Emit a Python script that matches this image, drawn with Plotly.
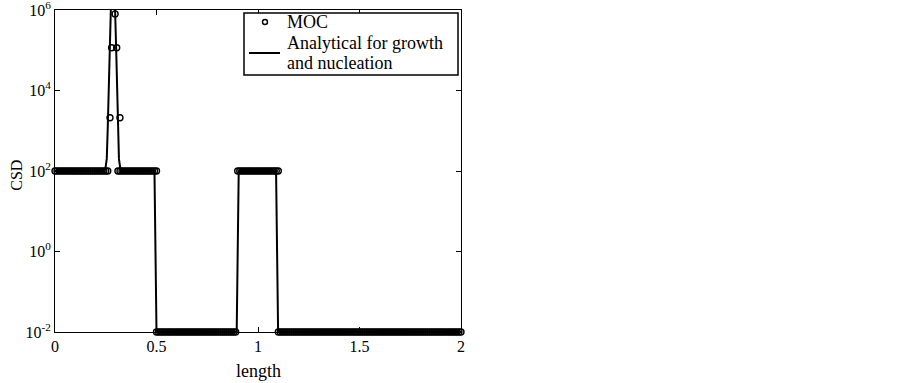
import plotly.graph_objects as go

# ---- data ----
# MOC points (method of characteristics)
moc_x_a = [0.00, 0.01, 0.02, 0.03, 0.04, 0.05, 0.06, 0.07, 0.08, 0.09, 0.10, 0.11, 0.12, 0.13,
           0.14, 0.15, 0.16, 0.17, 0.18, 0.19, 0.20, 0.21, 0.22, 0.23, 0.24, 0.25, 0.26]
moc_y_a = [100] * len(moc_x_a)

moc_x_peak = [0.271, 0.279, 0.296, 0.304, 0.320]
moc_y_peak = [2100, 1.15e5, 8.0e5, 1.15e5, 2100]

moc_x_b = [0.31, 0.32, 0.33, 0.34, 0.35, 0.36, 0.37, 0.38, 0.39, 0.40, 0.41, 0.42, 0.43, 0.44,
           0.45, 0.46, 0.47, 0.48, 0.49, 0.50]
moc_y_b = [100] * len(moc_x_b)

moc_x_c = [0.50, 0.51, 0.52, 0.53, 0.54, 0.55, 0.56, 0.57, 0.58, 0.59, 0.60, 0.61, 0.62, 0.63,
           0.64, 0.65, 0.66, 0.67, 0.68, 0.69, 0.70, 0.71, 0.72, 0.73, 0.74, 0.75, 0.76, 0.77,
           0.78, 0.79, 0.80, 0.81, 0.82, 0.83, 0.84, 0.85, 0.86, 0.87, 0.88, 0.89]
moc_y_c = [0.01] * len(moc_x_c)

moc_x_d = [0.90, 0.91, 0.92, 0.93, 0.94, 0.95, 0.96, 0.97, 0.98, 0.99, 1.00, 1.01, 1.02, 1.03,
           1.04, 1.05, 1.06, 1.07, 1.08, 1.09, 1.10]
moc_y_d = [100] * len(moc_x_d)

moc_x_e = [1.10, 1.11, 1.12, 1.13, 1.14, 1.15, 1.16, 1.17, 1.18, 1.19, 1.20, 1.21, 1.22, 1.23,
           1.24, 1.25, 1.26, 1.27, 1.28, 1.29, 1.30, 1.31, 1.32, 1.33, 1.34, 1.35, 1.36, 1.37,
           1.38, 1.39, 1.40, 1.41, 1.42, 1.43, 1.44, 1.45, 1.46, 1.47, 1.48, 1.49, 1.50, 1.51,
           1.52, 1.53, 1.54, 1.55, 1.56, 1.57, 1.58, 1.59, 1.60, 1.61, 1.62, 1.63, 1.64, 1.65,
           1.66, 1.67, 1.68, 1.69, 1.70, 1.71, 1.72, 1.73, 1.74, 1.75, 1.76, 1.77, 1.78, 1.79,
           1.80, 1.81, 1.82, 1.83, 1.84, 1.85, 1.86, 1.87, 1.88, 1.89, 1.90, 1.91, 1.92, 1.93,
           1.94, 1.95, 1.96, 1.97, 1.98, 1.99, 2.00]
moc_y_e = [0.01] * len(moc_x_e)

moc_x = moc_x_a + moc_x_peak + moc_x_b + moc_x_c + moc_x_d + moc_x_e
moc_y = moc_y_a + moc_y_peak + moc_y_b + moc_y_c + moc_y_d + moc_y_e

# Analytical solution for growth and nucleation
ana_x = [0.0, 0.236, 0.248, 0.255, 0.260, 0.265, 0.270, 0.275, 0.285, 0.296, 0.301, 0.306,
         0.311, 0.315, 0.322, 0.330, 0.490, 0.500, 0.895, 0.905, 1.089, 1.099, 2.0]
ana_y = [100, 100, 112, 200, 1260, 12600, 1.26e5, 1.0e6, 2.0e6, 1.0e6, 1.26e5, 12600,
         1000, 200, 112, 100, 100, 0.01, 0.01, 100, 100, 0.01, 0.01]

x_ticks = [0, 0.5, 1, 1.5, 2]
x_tick_text = ["0", "0.5", "1", "1.5", "2"]
y_ticks = [1e-2, 1e0, 1e2, 1e4, 1e6]
y_tick_text = ["10<sup>-2</sup>", "10<sup>0</sup>", "10<sup>2</sup>", "10<sup>4</sup>", "10<sup>6</sup>"]

legend_lines = ["MOC", "Analytical for growth", "and nucleation"]

FONT = "Liberation Serif"

# plot-area geometry in pixels (for placing the legend box)
L, R, T, B = 55, 461, 10, 332
def px(xp):
    return (xp - L) / (R - L)
def py(yp):
    return (B - yp) / (B - T)

fig = go.Figure()
fig.add_trace(go.Scatter(
    x=moc_x, y=moc_y, mode="markers", name="MOC",
    marker=dict(symbol="circle-open", size=6, color="black", line=dict(width=1.4, color="black")),
    cliponaxis=False, showlegend=False,
))
fig.add_trace(go.Scatter(
    x=ana_x, y=ana_y, mode="lines", name="Analytical for growth and nucleation",
    line=dict(color="black", width=2), showlegend=False,
))

shapes = [
    # legend box
    dict(type="rect", xref="paper", yref="paper", x0=px(244), x1=px(458), y0=py(75), y1=py(13),
         line=dict(color="black", width=1.5), fillcolor="white", layer="above"),
    # legend line sample
    dict(type="line", xref="paper", yref="paper", x0=px(249), x1=px(280), y0=py(53), y1=py(53),
         line=dict(color="black", width=2), layer="above"),
    # legend marker sample
    dict(type="circle", xref="paper", yref="paper", xsizemode="pixel", ysizemode="pixel",
         xanchor=px(265), yanchor=py(22), x0=-2.5, x1=2.5, y0=-2.5, y1=2.5,
         line=dict(color="black", width=1.4), layer="above"),
]

annotations = [
    dict(text="length", xref="paper", yref="paper", x=0.5, y=-0.083,
         xanchor="center", yanchor="top", showarrow=False,
         font=dict(family=FONT, size=18)),
    dict(text="CSD", xref="paper", yref="paper", x=-0.094, y=0.488,
         xanchor="center", yanchor="middle", textangle=-90, showarrow=False,
         font=dict(family=FONT, size=16)),
]
for txt, yy in zip(legend_lines, [22, 43, 63]):
    annotations.append(dict(text=txt, xref="paper", yref="paper", x=px(285), y=py(yy),
                            xanchor="left", yanchor="middle", showarrow=False,
                            font=dict(family=FONT, size=18)))

fig.update_layout(
    width=902, height=383,
    margin=dict(l=L, r=902 - R, t=T, b=383 - B),
    paper_bgcolor="white", plot_bgcolor="white",
    font=dict(family=FONT, size=13, color="black"),
    showlegend=False,
    shapes=shapes,
    annotations=annotations,
    xaxis=dict(
        range=[0, 2], tickvals=x_ticks, ticktext=x_tick_text,
        showline=True, linecolor="black", linewidth=1, mirror="ticks",
        ticks="inside", ticklen=5, tickcolor="black",
        showgrid=False, zeroline=False, automargin=False,
        ticklabeloverflow="allow",
        tickfont=dict(family=FONT, size=16),
    ),
    yaxis=dict(
        type="log", range=[-2.0005, 6.0005], tickvals=y_ticks, ticktext=y_tick_text,
        showline=True, linecolor="black", linewidth=1, mirror="ticks",
        ticks="inside", ticklen=5, tickcolor="black",
        showgrid=False, zeroline=False, automargin=False,
        ticklabeloverflow="allow",
        tickfont=dict(family=FONT, size=16),
    ),
)

fig.write_html(
    "out.html",
    config={"displayModeBar": False},
    post_script="document.body.style.margin='0px';document.body.style.overflow='hidden';",
)
